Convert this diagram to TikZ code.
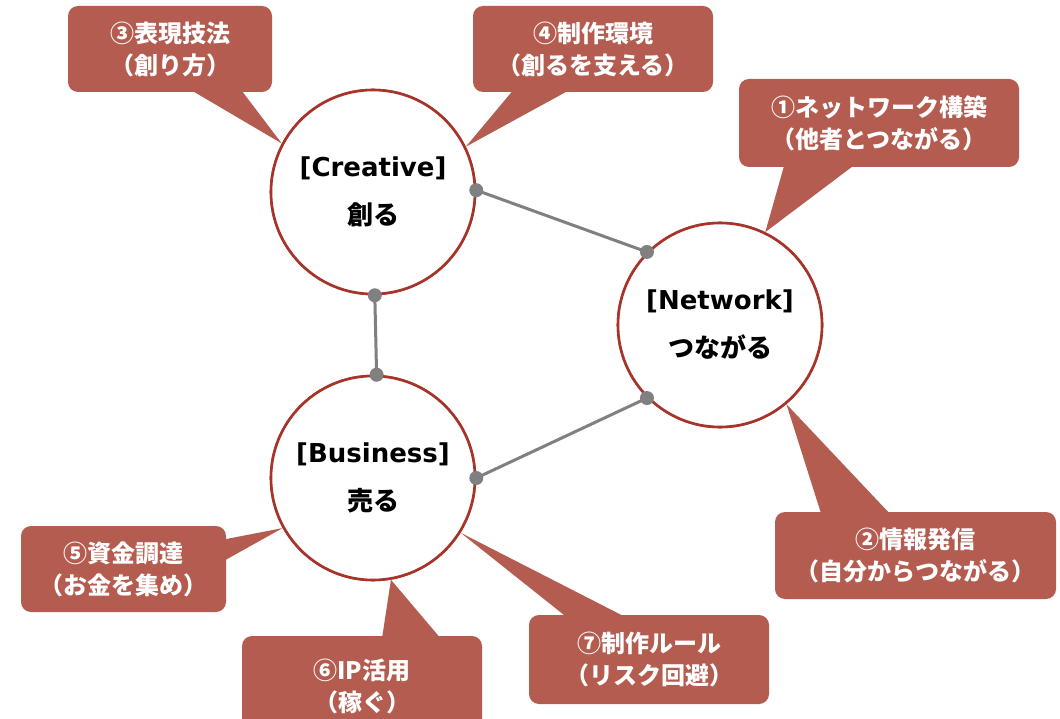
\documentclass[tikz,border=0pt]{standalone}
\usepackage{fontspec}
\newfontfamily\jpf{Noto Sans CJK JP}
\newfontfamily\latf{DejaVu Sans}
\usetikzlibrary{calc}
\definecolor{callfill}{RGB}{180,92,80}
\definecolor{ringc}{RGB}{166,52,42}
\definecolor{linkc}{RGB}{128,128,128}
\tikzset{
  callbox/.style={fill=callfill, rounded corners=10pt, text=white, align=center, inner sep=0pt,
    font=\jpf\bfseries\fontsize{24}{32}\selectfont},
  ptr/.style={fill=callfill},
  ring/.style={circle, draw=ringc, line width=2.6pt, fill=white, minimum size=204pt, inner sep=0pt,
    align=center, font=\fontsize{26}{48}\selectfont},
  link/.style={draw=linkc, line width=3pt},
  dotc/.style={fill=linkc}
}
\begin{document}
\begin{tikzpicture}[x=1pt,y=-1pt]
\clip (0,0) rectangle (1060,719);
\fill[white] (0,0) rectangle (1060,719);
% rings (placed first so pointers can reach them)
\node[ring] (cre) at (373,192) {\latf\bfseries [Creative]\\\jpf\bfseries 創る};
\node[ring] (net) at (720,325) {\latf\bfseries [Network]\\\jpf\bfseries つながる};
\node[ring] (bus) at (373,478) {\latf\bfseries [Business]\\\jpf\bfseries 売る};
% callout boxes
\node[callbox, minimum width=204pt, minimum height=86pt] (b3) at (170,49) {③表現技法\\（創り方）};
\node[callbox, minimum width=240pt, minimum height=86pt] (b4) at (593,49) {④制作環境\\（創るを支える）};
\node[callbox, minimum width=280pt, minimum height=88pt] (b1) at (879,123) {①ネットワーク構築\\（他者とつながる）};
\node[callbox, minimum width=281pt, minimum height=87pt] (b2) at (915.5,555.5) {②情報発信\\（自分からつながる）};
\node[callbox, minimum width=205pt, minimum height=86pt] (b5) at (123.5,569) {⑤資金調達\\（お金を集め）};
\node[callbox, minimum width=240pt, minimum height=100pt] (b6) at (362,686) {⑥IP活用\\（稼ぐ）};
\node[callbox, minimum width=240pt, minimum height=89pt] (b7) at (649,659.5) {⑦制作ルール\\（リスク回避）};
% pointers
\fill[ptr] ($(b3.south west)+(120,-4)$) -- (cre.152) -- ($(b3.south west)+(172,-4)$) -- cycle;
\fill[ptr] ($(b4.south west)+(42,-4)$) -- (cre.26) -- ($(b4.south west)+(100,-4)$) -- cycle;
\fill[ptr] ($(b1.south west)+(46,-4)$) -- (net.64) -- ($(b1.south west)+(118,-4)$) -- cycle;
\fill[ptr] ($(b2.north west)+(47,4)$) -- (net.-50) -- ($(b2.north west)+(117,4)$) -- cycle;
\fill[ptr] ($(b5.north east)+(-4,14)$) -- (bus.209) -- ($(b5.north east)+(-4,36)$) -- cycle;
\fill[ptr] ($(b6.north west)+(140,4)$) -- (bus.-80) -- ($(b6.north west)+(200,4)$) -- cycle;
\fill[ptr] ($(b7.north west)+(40,4)$) -- (bus.-32) -- ($(b7.north west)+(100,4)$) -- cycle;
% redraw rings on top of pointers
\node[ring] at (cre) {\latf\bfseries [Creative]\\\jpf\bfseries 創る};
\node[ring] at (net) {\latf\bfseries [Network]\\\jpf\bfseries つながる};
\node[ring] at (bus) {\latf\bfseries [Business]\\\jpf\bfseries 売る};
% links
\draw[link] (cre.1) -- (net.135);
\draw[link] (cre.-89) -- (bus.88);
\draw[link] (net.225) -- (bus.0);
\foreach \p in {cre.1, net.135, cre.-89, bus.88, net.225, bus.0}
  \fill[dotc] (\p) circle[radius=7pt];
\end{tikzpicture}
\end{document}
